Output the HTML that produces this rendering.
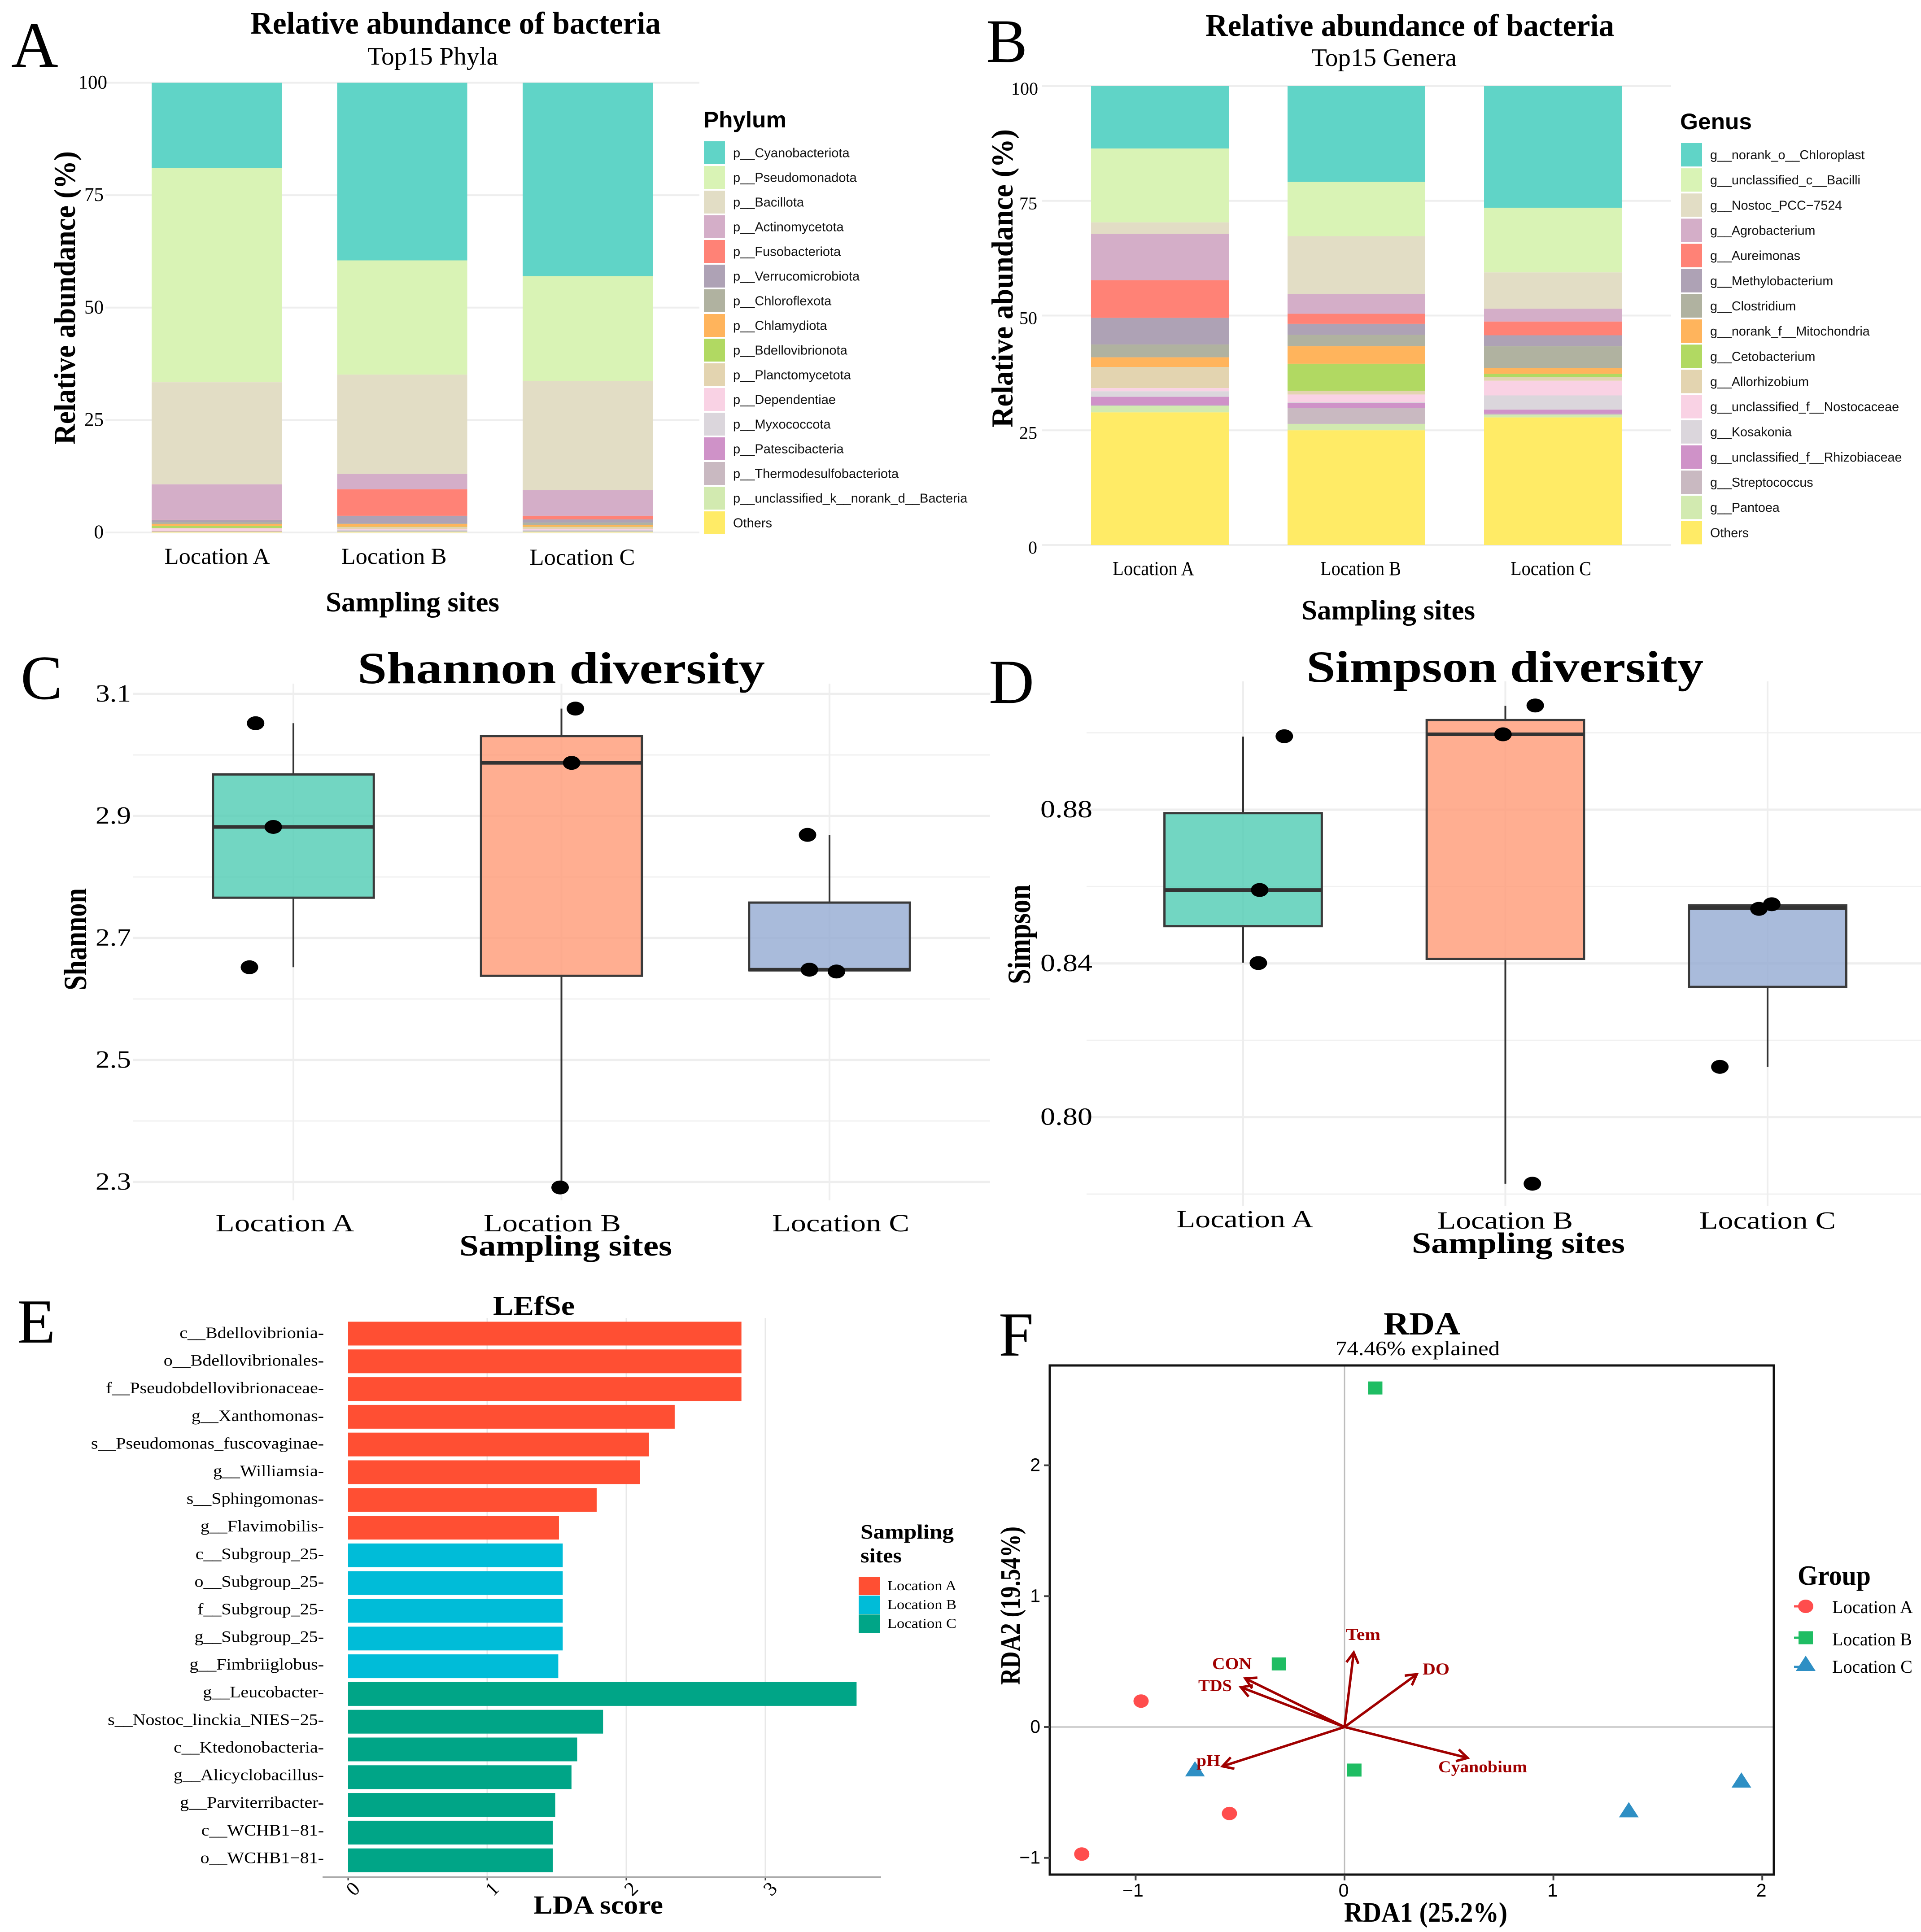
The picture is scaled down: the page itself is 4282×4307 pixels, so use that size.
<!DOCTYPE html>
<html lang="en">
<head>
<meta charset="utf-8">
<title>Bacterial community composition and diversity</title>
<style>
html,body{margin:0;padding:0;background:#fff;}
svg{display:block;}
</style>
</head>
<body>
<svg id="figure" xmlns="http://www.w3.org/2000/svg" width="4282" height="4307" viewBox="0 0 4282 4307"></svg>
<script>
// ---------- shared categories ----------
const locations = ['Location A', 'Location B', 'Location C'];

// ---------- panel A data ----------
const phylumNames = ['p__Cyanobacteriota','p__Pseudomonadota','p__Bacillota','p__Actinomycetota','p__Fusobacteriota','p__Verrucomicrobiota','p__Chloroflexota','p__Chlamydiota','p__Bdellovibrionota','p__Planctomycetota','p__Dependentiae','p__Myxococcota','p__Patescibacteria','p__Thermodesulfobacteriota','p__unclassified_k__norank_d__Bacteria','Others'];
const phylumLocationA = [19.0,47.6,22.7,7.9,0.05,0.5,0.35,0.4,0.5,0.1,0.5,0.1,0.05,0.05,0.05,0.15];
const phylumLocationB = [39.5,25.4,22.1,3.4,5.9,1.7,0.1,0.6,0.1,0.5,0.2,0.1,0.1,0.1,0.1,0.1];
const phylumLocationC = [43.0,23.3,24.3,5.7,0.8,0.7,0.6,0.3,0.1,0.4,0.2,0.2,0.1,0.1,0.1,0.1];

// ---------- panel B data ----------
const genusNames = ['g__norank_o__Chloroplast','g__unclassified_c__Bacilli','g__Nostoc_PCC\u22127524','g__Agrobacterium','g__Aureimonas','g__Methylobacterium','g__Clostridium','g__norank_f__Mitochondria','g__Cetobacterium','g__Allorhizobium','g__unclassified_f__Nostocaceae','g__Kosakonia','g__unclassified_f__Rhizobiaceae','g__Streptococcus','g__Pantoea','Others'];
const genusLocationA = [13.6,16.1,2.5,10.1,8.2,5.8,2.8,2.1,0.0,4.6,0.7,1.2,1.8,0.2,1.4,28.9];
const genusLocationB = [20.9,11.8,12.6,4.3,2.2,2.4,2.5,3.8,5.9,0.8,1.7,0.2,1.0,3.5,1.4,25.0];
const genusLocationC = [26.5,14.1,7.9,2.8,3.0,2.4,4.7,1.3,0.7,0.8,3.2,3.1,0.9,0.2,0.6,27.8];
const stackColors = ['#60d4c7','#d9f3b5','#e2ddc5','#d4aec8','#ff8276','#aea2b5','#b0b2a0','#ffb45c','#b1d962','#e3d4b0','#f9d2e4','#dbd6dc','#cf92c8','#c9b9c1','#d2eab0','#ffeb66'];
const stackTicks = [0,25,50,75,100];

// ---------- panel C data (min, q1, median, q3, max per site) ----------
const shannonBoxA = [2.652,2.766,2.882,2.968,3.052];
const shannonBoxB = [2.291,2.638,2.987,3.031,3.076];
const shannonBoxC = [2.647,2.647,2.648,2.758,2.869];
const shannonPointValues = [[3.052,2.882,2.652],[3.076,2.987,2.291],[2.869,2.648,2.645]];
const shannonPointJitter = [[-0.141,-0.075,-0.164],[0.052,0.038,-0.005],[-0.082,-0.075,0.026]];
const shannonTicks = ['2.3','2.5','2.7','2.9','3.1'];

// ---------- panel D data ----------
const simpsonBoxA = [0.8402,0.8497,0.8591,0.8791,0.8990];
const simpsonBoxB = [0.7827,0.8412,0.8996,0.9033,0.9070];
const simpsonBoxC = [0.8131,0.8339,0.8544,0.8551,0.8554];
const simpsonPointValues = [[0.8991,0.8591,0.8401],[0.9071,0.8996,0.7827],[0.8131,0.8542,0.8554]];
const simpsonPointJitter = [[0.157,0.063,0.058],[0.114,-0.009,0.103],[-0.182,-0.033,0.016]];
const simpsonTicks = ['0.80','0.84','0.88'];
const boxColors = ['#4fccb3','#ff9a76','#94aad2'];

// ---------- panel E data ----------
const lefseTaxa = ['c__Bdellovibrionia','o__Bdellovibrionales','f__Pseudobdellovibrionaceae','g__Xanthomonas','s__Pseudomonas_fuscovaginae','g__Williamsia','s__Sphingomonas','g__Flavimobilis','c__Subgroup_25','o__Subgroup_25','f__Subgroup_25','g__Subgroup_25','g__Fimbriiglobus','g__Leucobacter','s__Nostoc_linckia_NIES\u221225','c__Ktedonobacteria','g__Alicyclobacillus','g__Parviterribacter','c__WCHB1\u221281','o__WCHB1\u221281'];
const lefseScores = [2.828,2.828,2.828,2.348,2.163,2.10,1.787,1.516,1.543,1.543,1.543,1.543,1.511,3.656,1.833,1.647,1.606,1.489,1.471,1.471];
const lefseGroups = [0,0,0,0,0,0,0,0,1,1,1,1,1,2,2,2,2,2,2,2];
const lefseColors = ['#ff4f33','#00bcd8','#00a587'];
const lefseTicks = [0,1,2,3];

// ---------- panel F data ----------
const rdaSiteA1 = [-0.974,-0.551,-1.258];
const rdaSiteA2 = [0.198,-0.661,-0.971];
const rdaSiteB1 = [0.147,-0.314,0.047];
const rdaSiteB2 = [2.591,0.482,-0.329];
const rdaSiteC1 = [-0.716,1.361,1.900];
const rdaSiteC2 = [-0.326,-0.639,-0.412];
const rdaVarNames = ['Tem','DO','CON','TDS','pH','Cyanobium'];
const rdaVarA1 = [0.044,0.346,-0.475,-0.496,-0.584,0.589];
const rdaVarA2 = [0.569,0.403,0.371,0.304,-0.300,-0.236];
const rdaXTicks = [-1,0,1,2];
const rdaYTicks = [-1,0,1,2];
const rdaColors = ['#ff4d4d','#1fbd63','#2e8fc4'];

// ---------- helpers ----------
const NS = 'http://www.w3.org/2000/svg';
const root = document.getElementById('figure');
const SERIF = '"Liberation Serif", serif';
const SANS = '"Liberation Sans", sans-serif';

function make(tag, name, props, parent) {
  const el = document.createElementNS(NS, tag);
  
  
  for (const k in props) el.setAttribute(k, props[k]);
  (parent || root).appendChild(el);
  return el;
}
function rect(name, x, y, w, h, fill, extra) {
  return make('rect', name, Object.assign({x: x, y: y, width: w, height: h, fill: fill}, extra || {}));
}
function line(name, x1, y1, x2, y2, stroke, width) {
  return make('line', name, {x1: x1, y1: y1, x2: x2, y2: y2, stroke: stroke, 'stroke-width': width});
}
function txt(name, str, x, y, o) {
  o = o || {};
  const p = {
    'font-family': o.family || SERIF,
    'font-size': o.size || 40,
    'font-weight': o.weight || 'normal',
    'text-anchor': o.anchor || 'start',
    fill: o.fill || '#000'
  };
  p.x = x; p.y = y;
  if (o.rot) p.transform = 'rotate(' + o.rot + ' ' + x + ' ' + y + ')';
  if (o.w) { p.textLength = o.w; p.lengthAdjust = 'spacingAndGlyphs'; }
  const el = make('text', name, p);
  el.textContent = str;
  return el;
}
const scale = (d0, d1, r0, r1) => v => r0 + (v - d0) * (r1 - r0) / (d1 - d0);

// ---------- panel A / B ----------
function stackedPanel(cfg) {
  const y = scale(0, 100, cfg.y0, cfg.y100);
  stackTicks.forEach(t => {
    line('y-gridline-' + t, cfg.gridL, y(t), cfg.gridR, y(t), '#eeeeee', 4);
    txt('y-tick-label-' + t, String(t), cfg.tickR + (t === 100 ? cfg.hundredDx : 0), y(t) + cfg.tickDy, {size: cfg.tickSize, anchor: 'end'});
  });
  cfg.values.forEach((vals, c) => {
    let cum = 0;
    const x = cfg.barX + c * cfg.barStep;
    vals.forEach((v, s) => {
      const top = y(100 - cum), bottom = y(100 - cum - v);
      rect('bar-' + cfg.prefix + '-' + locations[c].slice(-1) + '-' + cfg.names[s], x, top, cfg.barW, bottom - top, stackColors[s]);
      cum += v;
    });
  });
  cfg.names.forEach((n, i) => {
    const yy = cfg.legY + i * cfg.legStep;
    rect('legend-swatch-' + n, cfg.legX, yy, 47, cfg.legStep - 4, stackColors[i]);
    txt('legend-label-' + n, n, cfg.legX + cfg.legTextDx, yy + (cfg.legStep - 4) / 2 + 10, {family: SANS, size: cfg.legSize, fill: '#111'});
  });
}

// Panel A
stackedPanel({prefix:'phylum', names:phylumNames, values:[phylumLocationA,phylumLocationB,phylumLocationC], y0:1187, y100:184.5, gridL:235, gridR:1559, tickR:231, hundredDx:8, tickDy:13, tickSize:43, barX:338, barStep:413.5, barW:290, legX:1569, legY:315, legStep:55, legTextDx:65, legSize:29});
txt('panel-label-a', 'A', 25, 149, {size:145});
txt('chart-title-a', 'Relative abundance of bacteria', 558, 75, {size:70, weight:'bold', w:915});
txt('chart-subtitle-a', 'Top15 Phyla', 819, 144, {size:56, w:291});
txt('y-axis-title-a', 'Relative abundance (%)', 167, 991, {size:68, weight:'bold', w:654, rot:-90});
txt('x-tick-label-a-1', locations[0], 484, 1257, {size:51, anchor:'middle', w:235});
txt('x-tick-label-a-2', locations[1], 878, 1257, {size:51, anchor:'middle', w:235});
txt('x-tick-label-a-3', locations[2], 1298, 1259, {size:51, anchor:'middle', w:235});
txt('x-axis-title-a', 'Sampling sites', 726, 1363, {size:62, weight:'bold', w:387});
txt('legend-title-phylum', 'Phylum', 1568, 284, {family:SANS, size:50, weight:'bold', w:185});

// Panel B
stackedPanel({prefix:'genus', names:genusNames, values:[genusLocationA,genusLocationB,genusLocationC], y0:1215, y100:192, gridL:2323, gridR:3725, tickR:2312, hundredDx:2, tickDy:19, tickSize:40, barX:2432, barStep:438, barW:307, legX:3747, legY:319, legStep:56.15, legTextDx:65, legSize:28.7});
txt('panel-label-b', 'B', 2198, 138, {size:138});
txt('chart-title-b', 'Relative abundance of bacteria', 2687, 80, {size:70, weight:'bold', w:911});
txt('chart-subtitle-b', 'Top15 Genera', 2923, 147, {size:56, w:324});
txt('y-axis-title-b', 'Relative abundance (%)', 2257, 953, {size:68, weight:'bold', w:665, rot:-90});
txt('x-tick-label-b-1', locations[0], 2571, 1282, {size:44, anchor:'middle', w:182});
txt('x-tick-label-b-2', locations[1], 3033, 1282, {size:44, anchor:'middle', w:180});
txt('x-tick-label-b-3', locations[2], 3457, 1282, {size:44, anchor:'middle', w:180});
txt('x-axis-title-b', 'Sampling sites', 2901, 1381, {size:62, weight:'bold', w:387});
txt('legend-title-genus', 'Genus', 3745, 288, {family:SANS, size:50, weight:'bold', w:160});

// ---------- panel C / D ----------
function boxPanel(cfg) {
  const y = cfg.y, x = c => cfg.cat0 + c * cfg.catStep;
  cfg.gridMajor.forEach(v => line('y-gridline-major-' + v, cfg.gridL, y(v), cfg.gridR, y(v), '#eeeeee', 5));
  cfg.gridMinor.forEach(v => line('y-gridline-minor-' + v, cfg.gridL, y(v), cfg.gridR, y(v), '#f1f1f1', 3));
  locations.forEach((l, c) => line('x-gridline-' + l, x(c), cfg.gridT, x(c), cfg.gridB, '#eeeeee', 4));
  cfg.boxes.forEach((b, c) => {
    const hw = 0.3 * cfg.catStep, key = cfg.prefix + '-' + locations[c].slice(-1);
    line('whisker-upper-' + key, x(c), y(b[3]), x(c), y(b[4]), '#333', 4);
    line('whisker-lower-' + key, x(c), y(b[1]), x(c), y(b[0]), '#333', 4);
    rect('box-' + key, x(c) - hw, y(b[3]), 2 * hw, y(b[1]) - y(b[3]), boxColors[c], {'fill-opacity':0.8, stroke:'#3a3a3a', 'stroke-width':5});
    line('median-' + key, x(c) - hw, y(b[2]), x(c) + hw, y(b[2]), '#333', 8);
  });
  cfg.points.forEach((vals, c) => vals.forEach((v, i) => {
    make('ellipse', 'sample-point-' + cfg.prefix + '-' + locations[c].slice(-1) + '-' + (i + 1), {cx: x(c) + cfg.jitter[c][i] * cfg.catStep, cy: y(v), rx: 19.5, ry: 15.5, fill: '#000'});
  }));
}

// Panel C
const yShannon = scale(2.3, 3.1, 2635, 1547);
boxPanel({prefix:'shannon', y:yShannon, cat0:654, catStep:597.5, gridL:297, gridR:2207, gridT:1524, gridB:2676, gridMajor:[2.3,2.5,2.7,2.9,3.1], gridMinor:[2.4,2.6,2.8,3.0], boxes:[shannonBoxA,shannonBoxB,shannonBoxC], points:shannonPointValues, jitter:shannonPointJitter});
shannonTicks.forEach(t => txt('y-tick-label-shannon-' + t, t, 292, yShannon(parseFloat(t)) + 17, {size:55, anchor:'end', w:79}));
txt('panel-label-c', 'C', 46, 1558, {size:140});
txt('chart-title-c', 'Shannon diversity', 797, 1523, {size:100, weight:'bold', w:908});
txt('y-axis-title-c', 'Shannon', 192, 2208, {size:72, weight:'bold', w:228, rot:-90});
txt('x-tick-label-c-1', locations[0], 635, 2745, {size:55, anchor:'middle', w:309});
txt('x-tick-label-c-2', locations[1], 1231, 2745, {size:55, anchor:'middle', w:306});
txt('x-tick-label-c-3', locations[2], 1874, 2745, {size:55, anchor:'middle', w:306});
txt('x-axis-title-c', 'Sampling sites', 1024, 2799, {size:66, weight:'bold', w:474});

// Panel D
const ySimpson = scale(0.78, 0.88, 2662, 1805);
boxPanel({prefix:'simpson', y:ySimpson, cat0:2771, catStep:584.5, gridL:2422, gridR:4282, gridT:1519, gridB:2689, gridMajor:[0.80,0.84,0.88], gridMinor:[0.78,0.82,0.86,0.90], boxes:[simpsonBoxA,simpsonBoxB,simpsonBoxC], points:simpsonPointValues, jitter:simpsonPointJitter});
simpsonTicks.forEach(t => txt('y-tick-label-simpson-' + t, t, 2435, ySimpson(parseFloat(t)) + 17, {size:55, anchor:'end', w:116}));
txt('panel-label-d', 'D', 2204, 1567, {size:140});
txt('chart-title-d', 'Simpson diversity', 2912, 1520, {size:100, weight:'bold', w:885});
txt('y-axis-title-d', 'Simpson', 2296, 2194, {size:72, weight:'bold', w:222, rot:-90});
txt('x-tick-label-d-1', locations[0], 2775, 2736, {size:55, anchor:'middle', w:305});
txt('x-tick-label-d-2', locations[1], 3355, 2739, {size:55, anchor:'middle', w:302});
txt('x-tick-label-d-3', locations[2], 3940, 2739, {size:55, anchor:'middle', w:304});
txt('x-axis-title-d', 'Sampling sites', 3147, 2793, {size:66, weight:'bold', w:475});

// ---------- panel E ----------
const xLefse = scale(0, 1, 776, 1086);
const yLefse = i => 2973 + i * 61.8;
lefseTicks.forEach(t => {
  if (t > 0) line('x-gridline-lefse-' + t, xLefse(t), 2938, xLefse(t), 4185, '#e8e8e8', 3);
  line('x-tick-lefse-' + t, xLefse(t), 4185, xLefse(t), 4192, '#444', 3);
  txt('x-tick-label-lefse-' + t, String(t), xLefse(t) + 21, 4221, {size:44, anchor:'middle', rot:-45});
});
lefseTaxa.forEach((taxon, i) => {
  rect('bar-lefse-' + taxon, xLefse(0), yLefse(i) - 26.5, xLefse(lefseScores[i]) - xLefse(0), 53, lefseColors[lefseGroups[i]]);
  txt('y-tick-label-lefse-' + taxon, taxon + '-', 722 / 1.11, 0, {size:36, anchor:'end'}).setAttribute('transform', 'translate(0 ' + (yLefse(i) + 10 - i * 0.2) + ') scale(1.11 1)');
});
line('x-axis-line-lefse', 719, 4185, 1964, 4185, '#aaaaaa', 4);
txt('panel-label-e', 'E', 38, 2993, {size:140});
txt('chart-title-e', 'LEfSe', 1099, 2931, {size:60, weight:'bold', w:182});
txt('x-axis-title-e', 'LDA score', 1189, 4266, {size:58, weight:'bold', w:289});
txt('legend-title-sampling-line-1', 'Sampling', 1918, 3430, {size:46, weight:'bold', w:208});
txt('legend-title-sampling-line-2', 'sites', 1918, 3483, {size:46, weight:'bold', w:92});
locations.forEach((l, i) => {
  rect('legend-swatch-lefse-' + l, 1914, 3515 + i * 42, 47, 41, lefseColors[i]);
  txt('legend-label-lefse-' + l, l, 1978, 3545 + i * 42, {size:31, w:154});
});

// ---------- panel F ----------
const xRda = scale(0, 1, 2997, 3462.6);
const yRda = scale(0, 1, 3850, 3558.3);
line('zero-line-vertical', xRda(0), 3044, xRda(0), 4179, '#bdbdbd', 3);
line('zero-line-horizontal', 2340, yRda(0), 3954, yRda(0), '#bdbdbd', 3);
rect('plot-frame-rda', 2340, 3044, 1614, 1135, 'none', {stroke:'#111', 'stroke-width':5});
rdaXTicks.forEach(t => {
  line('x-tick-rda-' + t, xRda(t), 4179, xRda(t), 4192, '#444', 4);
  txt('x-tick-label-rda-' + t, t < 0 ? '\u2212' + (-t) : String(t), xRda(t) - (t < 0 ? 6 : 2), 4228, {family:SANS, size:41, anchor:'middle'});
});
rdaYTicks.forEach(t => {
  line('y-tick-rda-' + t, 2327, yRda(t), 2340, yRda(t), '#444', 4);
  txt('y-tick-label-rda-' + t, t < 0 ? '\u2212' + (-t) : String(t), 2319, yRda(t) + 13, {family:SANS, size:41, anchor:'end'});
});
function circleMark(name, cx, cy, color) {
  make('ellipse', name, {cx: cx, cy: cy, rx: 17, ry: 15, fill: color});
}
function squareMark(name, cx, cy, color) {
  rect(name, cx - 16, cy - 14.5, 32, 29, color);
}
function triangleMark(name, cx, cy, color) {
  make('polygon', name, {points: (cx - 22) + ',' + (cy + 15) + ' ' + (cx + 22) + ',' + (cy + 15) + ' ' + cx + ',' + (cy - 19), fill: color});
}
rdaVarNames.forEach((n, i) => {
  const ox = xRda(0), oy = yRda(0), tx = xRda(rdaVarA1[i]), ty = yRda(rdaVarA2[i]);
  const ang = Math.atan2(ty - oy, tx - ox), L = 27, spread = 0.52;
  line('arrow-shaft-' + n, ox, oy, tx, ty, '#a00000', 5.5);
  make('polyline', 'arrow-head-' + n, {
    points: (tx - L * Math.cos(ang - spread)) + ',' + (ty - L * Math.sin(ang - spread)) + ' ' + tx + ',' + ty + ' ' + (tx - L * Math.cos(ang + spread)) + ',' + (ty - L * Math.sin(ang + spread)),
    fill: 'none', stroke: '#a00000', 'stroke-width': 5.5
  });
});
rdaSiteA1.forEach((v, i) => circleMark('site-point-location-a-' + (i + 1), xRda(v), yRda(rdaSiteA2[i]), rdaColors[0]));
rdaSiteB1.forEach((v, i) => squareMark('site-point-location-b-' + (i + 1), xRda(v), yRda(rdaSiteB2[i]), rdaColors[1]));
rdaSiteC1.forEach((v, i) => triangleMark('site-point-location-c-' + (i + 1), xRda(v), yRda(rdaSiteC2[i]), rdaColors[2]));
const labelOpts = {size:37, weight:'bold', fill:'#a00000'};
txt('env-label-tem', rdaVarNames[0], 3000, 3656, Object.assign({w:77}, labelOpts));
txt('env-label-do', rdaVarNames[1], 3171, 3733, Object.assign({w:60}, labelOpts));
txt('env-label-con', rdaVarNames[2], 2702, 3721, Object.assign({w:88}, labelOpts));
txt('env-label-tds', rdaVarNames[3], 2671, 3770, Object.assign({w:75}, labelOpts));
txt('env-label-ph', rdaVarNames[4], 2667, 3937, Object.assign({w:53}, labelOpts));
txt('env-label-cyanobium', rdaVarNames[5], 3206, 3951, Object.assign({w:198}, labelOpts));
txt('panel-label-f', 'F', 2226, 3022, {size:140});
txt('chart-title-f', 'RDA', 3084, 2975, {size:72, weight:'bold', w:171});
txt('chart-subtitle-f', '74.46% explained', 2977, 3021, {size:46, w:366});
txt('x-axis-title-f', 'RDA1 (25.2%)', 2996, 4284, {size:62, weight:'bold', w:364});
txt('y-axis-title-f', 'RDA2 (19.54%)', 2273, 3756, {size:62, weight:'bold', w:353, rot:-90});
txt('legend-title-group', 'Group', 4007, 3533, {size:62, weight:'bold', w:163});
line('legend-key-dash-a', 3999, 3581, 4022, 3581, rdaColors[0], 5);
circleMark('legend-key-location-a', 4025, 3581, rdaColors[0]);
txt('legend-label-location-a', locations[0], 4084, 3596, {size:40, w:180});
line('legend-key-dash-b', 3999, 3651, 4022, 3651, rdaColors[1], 5);
squareMark('legend-key-location-b', 4025, 3651, rdaColors[1]);
txt('legend-label-location-b', locations[1], 4084, 3668, {size:40, w:178});
line('legend-key-dash-c', 3999, 3716, 4022, 3716, rdaColors[2], 5);
triangleMark('legend-key-location-c', 4025, 3710, rdaColors[2]);
txt('legend-label-location-c', locations[2], 4084, 3729, {size:40, w:179});
</script>
</body>
</html>
